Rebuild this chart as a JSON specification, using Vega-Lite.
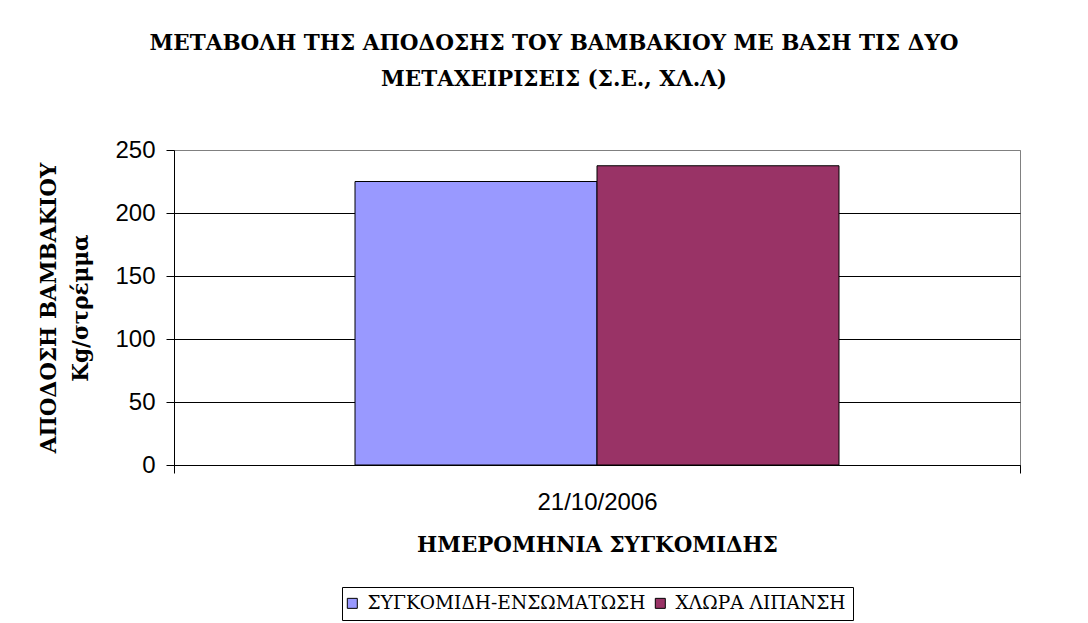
{
  "$schema": "https://vega.github.io/schema/vega-lite/v6.json",
  "width": 846,
  "height": 315,
  "autosize": {"type": "none"},
  "padding": {"left": 174, "top": 150, "right": 68, "bottom": 158},
  "background": "white",
  "title": {
    "text": ["ΜΕΤΑΒΟΛΗ ΤΗΣ ΑΠΟΔΟΣΗΣ ΤΟΥ ΒΑΜΒΑΚΙΟΥ ΜΕ ΒΑΣΗ ΤΙΣ ΔΥΟ", "ΜΕΤΑΧΕΙΡΙΣΕΙΣ (Σ.Ε., ΧΛ.Λ)"],
    "font": "DejaVu Serif",
    "fontSize": 21.5,
    "fontWeight": "bold",
    "color": "black",
    "lineHeight": 36,
    "anchor": "middle",
    "frame": "group",
    "dx": -43,
    "offset": 48
  },
  "data": {
    "values": [
      {"date": "21/10/2006", "series": "ΣΥΓΚΟΜΙΔΗ-ΕΝΣΩΜΑΤΩΣΗ", "yield": 225},
      {"date": "21/10/2006", "series": "ΧΛΩΡΑ ΛΙΠΑΝΣΗ", "yield": 237.5}
    ]
  },
  "mark": {"type": "bar", "stroke": "black", "strokeWidth": 1},
  "encoding": {
    "x": {
      "field": "date",
      "type": "nominal",
      "scale": {"paddingInner": 0, "paddingOuter": 0},
      "axis": {
        "title": "ΗΜΕΡΟΜΗΝΙΑ ΣΥΓΚΟΜΙΔΗΣ",
        "labelAngle": 0,
        "tickBand": "extent",
        "tickSize": 8,
        "tickColor": "black",
        "domainColor": "black",
        "labelFont": "Liberation Sans",
        "labelFontSize": 24,
        "labelColor": "black",
        "labelPadding": 17,
        "labelBaseline": "top",
        "titleFont": "DejaVu Serif",
        "titleFontSize": 21.4,
        "titleFontWeight": "bold",
        "titleColor": "black",
        "titleBaseline": "alphabetic",
        "titleY": 86,
        "grid": false
      }
    },
    "xOffset": {
      "field": "series",
      "type": "nominal",
      "scale": {"paddingInner": 0, "paddingOuter": 0.748}
    },
    "y": {
      "field": "yield",
      "type": "quantitative",
      "scale": {"domain": [0, 250], "nice": false},
      "axis": {
        "title": ["ΑΠΟΔΟΣΗ ΒΑΜΒΑΚΙΟΥ", "Kg/στρέμμα"],
        "values": [0, 50, 100, 150, 200, 250],
        "tickSize": 8,
        "tickColor": "black",
        "domainColor": "black",
        "grid": true,
        "gridColor": {"condition": {"test": "datum.value === 250", "value": "#808080"}, "value": "black"},
        "gridOpacity": 1,
        "labelFont": "Liberation Sans",
        "labelFontSize": 24,
        "labelColor": "black",
        "labelPadding": 11,
        "labelFlush": false,
        "titleFont": "DejaVu Serif",
        "titleFontSize": 21.5,
        "titleFontWeight": "bold",
        "titleColor": "black",
        "titleLineHeight": 32,
        "titleBaseline": "alphabetic",
        "titleX": -119,
        "titleY": 157.5,
        "titleAngle": 270,
        "titleAlign": "center"
      }
    },
    "color": {
      "field": "series",
      "type": "nominal",
      "scale": {"range": ["#9999FF", "#993366"]},
      "legend": {
        "orient": "none",
        "legendX": 168,
        "legendY": 437,
        "direction": "horizontal",
        "title": null,
        "strokeColor": "black",
        "padding": 7,
        "symbolType": "square",
        "symbolSize": 100,
        "symbolStrokeColor": "black",
        "symbolStrokeWidth": 1,
        "symbolOpacity": 1,
        "symbolOffset": -6,
        "labelFont": "DejaVu Serif",
        "labelFontSize": 18.6,
        "labelColor": "black",
        "labelOffset": 6,
        "columnPadding": 7,
        "labelLimit": 400
      }
    }
  },
  "config": {"view": {"stroke": "#808080", "strokeWidth": 1}}
}
